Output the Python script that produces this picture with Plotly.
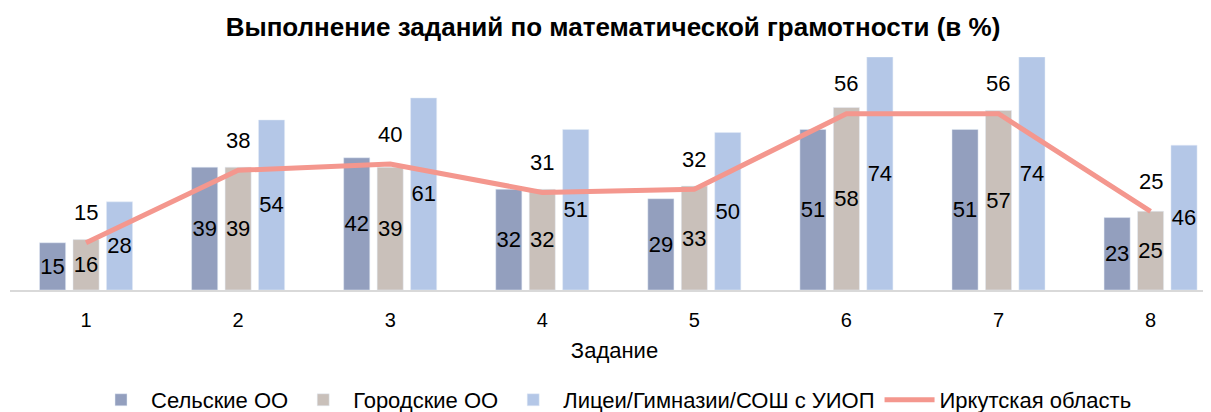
import plotly.graph_objects as go

# Данные
tasks = ['1', '2', '3', '4', '5', '6', '7', '8']
rural = [15, 39, 42, 32, 29, 51, 51, 23]
urban = [16, 39, 39, 32, 33, 58, 57, 25]
lyceum = [28, 54, 61, 51, 50, 74, 74, 46]
region = [15, 38, 40, 31, 32, 56, 56, 25]

FONT = "Liberation Sans, Arial"

fig = go.Figure()

series = [
    ('Сельские ОО', rural, '#939FBE'),
    ('Городские ОО', urban, '#C9C0BA'),
    ('Лицеи/Гимназии/СОШ с УИОП', lyceum, '#B4C7E7'),
]
for name, vals, color in series:
    fig.add_trace(go.Bar(
        name=name, x=tasks, y=vals, marker_color=color,
        text=vals, textposition='inside', insidetextanchor='middle',
        textangle=0, textfont=dict(size=22, color='black', family=FONT),
    ))

fig.add_trace(go.Scatter(
    name='Иркутская область', x=tasks, y=region, mode='lines',
    line=dict(color='#F4978E', width=5),
))

# подписи над линией (x по индексу категории)
for i, v in enumerate(region):
    fig.add_annotation(x=i, y=v, text=str(v), showarrow=False, yshift=30,
                       font=dict(size=22, color='black', family=FONT))

fig.update_layout(
    width=1211, height=412,
    title=dict(text='<b>Выполнение заданий по математической грамотности (в %)</b>',
               x=0.4996, xanchor='center', y=0.955, yanchor='middle',
               font=dict(size=26, color='black', family=FONT)),
    barmode='group', bargap=0.34, bargroupgap=0.22,
    plot_bgcolor='white', paper_bgcolor='white',
    margin=dict(l=2, r=0, t=49, b=130, autoexpand=False),
    uniformtext=dict(minsize=22, mode='show'),
    font=dict(family=FONT, color='black', size=20),
    legend=dict(orientation='h', x=0.4996, xanchor='center', y=-0.472, yanchor='middle',
                font=dict(size=22, family=FONT), itemwidth=50),
    showlegend=True,
)
fig.update_xaxes(range=[-0.5, 7.45], showline=True, linecolor='#D9D9D9', linewidth=2,
                 ticks='', ticklabelstandoff=11, tickfont=dict(size=20), automargin=False,
                 title=dict(text='Задание', font=dict(size=22), standoff=13))
fig.update_yaxes(range=[0, 74], visible=False)

fig.write_html("out.html")
